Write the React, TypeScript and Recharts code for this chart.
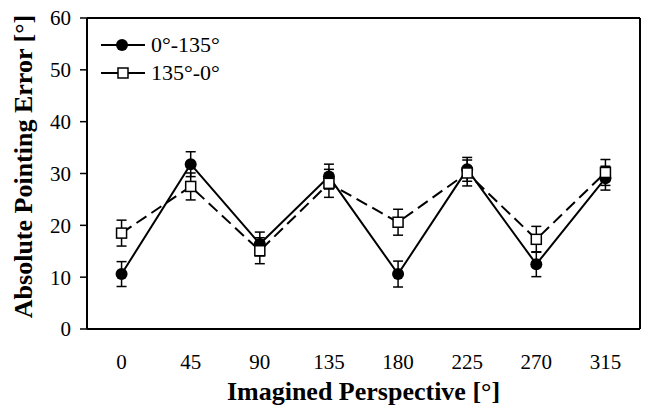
import React from 'react';
import { ComposedChart, Line, XAxis, YAxis, ErrorBar, Legend, CartesianGrid } from 'recharts';

const categories = ['0', '45', '90', '135', '180', '225', '270', '315'];
const seriesA = [10.6, 31.8, 16.4, 29.4, 10.6, 30.8, 12.5, 29.1];
const seriesAErr = [2.4, 2.4, 2.3, 2.4, 2.5, 2.3, 2.4, 2.3];
const seriesB = [18.5, 27.5, 15.1, 28.1, 20.6, 30.1, 17.3, 30.2];
const seriesBErr = [2.5, 2.6, 2.5, 2.7, 2.5, 2.5, 2.5, 2.5];
const yTicks = [0, 10, 20, 30, 40, 50, 60];
const nameA = '0°-135°';
const nameB = '135°-0°';

const data = categories.map((c, i) => ({
  cat: c,
  a: seriesA[i],
  aErr: seriesAErr[i],
  b: seriesB[i],
  bErr: seriesBErr[i],
}));

const FONT = '"Liberation Serif", "Times New Roman", serif';

const SquareDot = (props: any) => {
  const { cx, cy, index } = props;
  if (cx == null || cy == null) return <g key={'sq' + index} />;
  return (
    <rect
      key={'sq' + index}
      x={cx - 5}
      y={cy - 5}
      width={10}
      height={10}
      fill="#fff"
      stroke="#000"
      strokeWidth={1.5}
    />
  );
};

const LegendContent = () => {
  const rows = [
    { name: nameA, dashed: false },
    { name: nameB, dashed: true },
  ];
  return (
    <div style={{ fontFamily: FONT, fontSize: 22, color: '#000' }}>
      {rows.map((r) => (
        <div key={r.name} style={{ display: 'flex', alignItems: 'center', height: 28 }}>
          <svg width={46} height={20} style={{ display: 'block' }}>
            <line x1={1} y1={10} x2={45} y2={10} stroke="#000" strokeWidth={2} />
            {r.dashed ? (
              <rect x={18} y={5} width={10} height={10} fill="#fff" stroke="#000" strokeWidth={1.5} />
            ) : (
              <circle cx={22} cy={10} r={6} fill="#000" />
            )}
          </svg>
          <span style={{ marginLeft: 5, lineHeight: '28px', whiteSpace: 'nowrap' }}>{r.name}</span>
        </div>
      ))}
    </div>
  );
};

const XTitle = (props: any) => {
  const vb = props.viewBox || { x: 87, y: 329, width: 553, height: 84 };
  return (
    <text
      x={vb.x + vb.width / 2}
      y={vb.y + 71}
      textAnchor="middle"
      fontFamily={FONT}
      fontWeight="bold"
      fontSize={26}
      fill="#000"
    >
      Imagined Perspective [°]
    </text>
  );
};

const YTitle = (props: any) => {
  const vb = props.viewBox || { x: 0, y: 18, width: 87, height: 311 };
  const x = 23;
  const y = vb.y + vb.height / 2 - 7;
  return (
    <text
      x={x}
      y={y}
      transform={`rotate(-90, ${x}, ${y})`}
      textAnchor="middle"
      dominantBaseline="central"
      fontFamily={FONT}
      fontWeight="bold"
      fontSize={26}
      fill="#000"
    >
      Absolute Pointing Error [°]
    </text>
  );
};

const frameH = (p: any) => [p.offset.top, p.offset.top + p.offset.height];
const frameV = (p: any) => [p.offset.left, p.offset.left + p.offset.width];

export default function App() {
  return (
    <div style={{ width: 648, height: 413, background: '#fff', position: 'relative' }}>
      <style>{`body{margin:0;background:#fff;font-family:"Liberation Serif",serif}
.recharts-cartesian-axis-tick-value{font-family:"Liberation Serif","Times New Roman",serif}`}</style>
      <ComposedChart
        width={648}
        height={413}
        data={data}
        margin={{ top: 18, right: 8, left: 0, bottom: 0 }}
      >
        <CartesianGrid
          stroke="#000"
          strokeWidth={2}
          fill="none"
          horizontalCoordinatesGenerator={frameH}
          verticalCoordinatesGenerator={frameV}
        />
        <XAxis
          dataKey="cat"
          scale="band"
          height={84}
          tickLine={false}
          tickSize={0}
          tickMargin={25}
          axisLine={{ stroke: '#000', strokeWidth: 2 }}
          tick={{ fill: '#000', fontSize: 21, fontFamily: FONT }}
          interval={0}
          label={<XTitle />}
        />
        <YAxis
          width={87}
          domain={[0, 60]}
          ticks={yTicks}
          interval={0}
          tickSize={7}
          tickMargin={9}
          tickLine={{ stroke: '#000', strokeWidth: 1.5 }}
          axisLine={{ stroke: '#000', strokeWidth: 2 }}
          tick={{ fill: '#000', fontSize: 21, fontFamily: FONT }}
          label={<YTitle />}
        />
        <Legend
          layout="horizontal"
          verticalAlign="middle"
          align="center"
          content={<LegendContent />}
          wrapperStyle={{ left: 100, top: 31, width: 120, height: 56 }}
        />
        <Line
          name={nameA}
          dataKey="a"
          stroke="#000"
          strokeWidth={2}
          isAnimationActive={false}
          dot={{ r: 6, fill: '#000', stroke: '#000', strokeWidth: 0 }}
          activeDot={false}
        >
          <ErrorBar dataKey="aErr" width={5} stroke="#000" strokeWidth={1.5} />
        </Line>
        <Line
          name={nameB}
          dataKey="b"
          stroke="#000"
          strokeWidth={2}
          strokeDasharray="12 6"
          isAnimationActive={false}
          dot={SquareDot}
          activeDot={false}
        >
          <ErrorBar dataKey="bErr" width={5} stroke="#000" strokeWidth={1.5} />
        </Line>
      </ComposedChart>
    </div>
  );
}
